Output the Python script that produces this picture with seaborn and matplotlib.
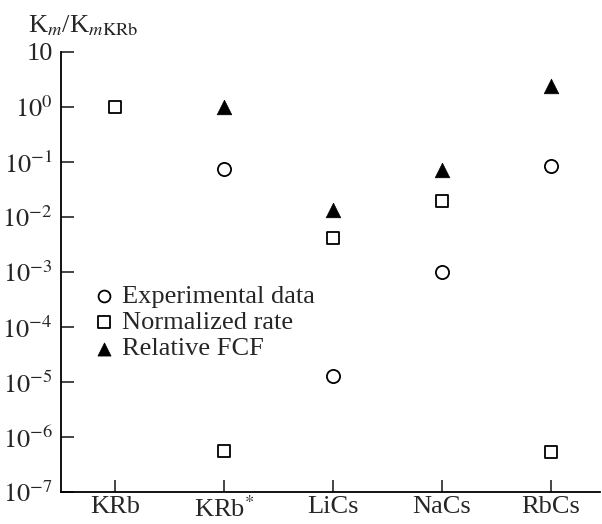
import numpy as np
import pandas as pd
import matplotlib
matplotlib.use("Agg")
import matplotlib.pyplot as plt
import seaborn as sns

# molecules on the x axis
molecules = ["KRb", "KRb*", "LiCs", "NaCs", "RbCs"]
tick_labels = ["KRb", r"KRb$^{*}$", "LiCs", "NaCs", "RbCs"]

# values (nan = no point)
experimental = [np.nan, 0.075, 1.3e-5, 1.0e-3, 0.085]
normalized = [1.0, 5.5e-7, 4.2e-3, 0.0195, 5.3e-7]
relative_fcf = [np.nan, 1.0, 0.0135, 0.073, 2.4]

sns.set_style("ticks")
plt.rcParams["font.family"] = ["Liberation Serif", "DejaVu Serif"]
plt.rcParams["mathtext.fontset"] = "stix"
plt.rcParams["font.size"] = 19

df = pd.DataFrame({
    "pos": np.arange(len(molecules)),
    "Experimental data": experimental,
    "Normalized rate": normalized,
    "Relative FCF": relative_fcf,
})

fig = plt.figure(figsize=(6.02, 5.24), dpi=100)
ax = fig.add_axes([61 / 602, 32 / 524, 539 / 602, 440 / 524])

sns.scatterplot(data=df, x="pos", y="Experimental data", marker="o", s=90,
                facecolor="white", edgecolor="black", linewidth=1.3,
                label="Experimental data", ax=ax)
sns.scatterplot(data=df, x="pos", y="Normalized rate", marker="s", s=78,
                facecolor="white", edgecolor="black", linewidth=1.3,
                label="Normalized rate", ax=ax)
sns.scatterplot(data=df, x="pos", y="Relative FCF", marker="^", s=110,
                color="black", edgecolor="black", linewidth=0.5,
                label="Relative FCF", ax=ax)

ax.set_yscale("log")
ax.set_ylim(1e-7, 10)
ax.set_xlim(-0.495, 4.45)

ax.set_yticks([10.0 ** k for k in range(-7, 2)])
ax.set_yticklabels([r"$10^{%d}$" % k if k != 1 else "10" for k in range(-7, 2)])
ax.yaxis.set_minor_locator(matplotlib.ticker.LogLocator(base=10, subs=np.arange(2, 10)))
ax.yaxis.set_minor_formatter(matplotlib.ticker.NullFormatter())

ax.set_xticks(df["pos"])
ax.set_xticklabels(tick_labels)

ax.tick_params(axis="both", which="major", direction="in", length=9, width=1.2, pad=6)
ax.tick_params(axis="x", which="major", pad=3)
ax.tick_params(axis="y", which="minor", direction="in", length=6, width=1.0)
ax.tick_params(axis="x", which="minor", bottom=False)

for side in ["top", "right"]:
    ax.spines[side].set_visible(False)
for side in ["left", "bottom"]:
    ax.spines[side].set_linewidth(1.3)
    ax.spines[side].set_color("black")

ax.set_xlabel("")
ax.set_ylabel("")
fig.text(28 / 602, 1 - 32 / 524, r"K$_{m}$/K$_{m\mathrm{KRb}}$", fontsize=19,
         ha="left", va="baseline")

ax.legend(loc="center left", bbox_to_anchor=(0.055, 0.385), frameon=False,
          handlelength=1.0, handletextpad=0.2, borderpad=0, borderaxespad=0,
          labelspacing=0.1, markerscale=0.9, fontsize=19)

fig.savefig("out.png", dpi=100)
